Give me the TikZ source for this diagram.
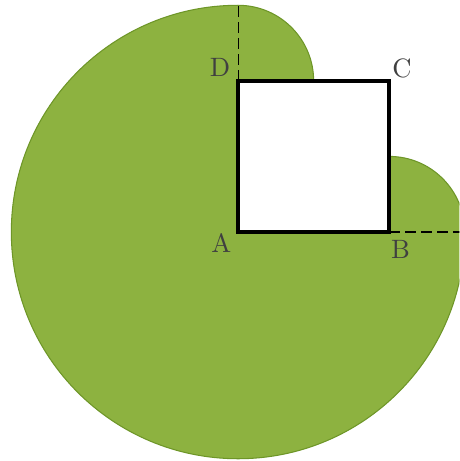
\documentclass[tikz,border=0pt]{standalone}
\usetikzlibrary{positioning}

\definecolor{grass}{RGB}{141,178,64}
\definecolor{grassedge}{RGB}{110,150,40}

\begin{document}
\begin{tikzpicture}[
  reach/.style={fill=grass, draw=grassedge, line width=0.4pt},
  barn/.style={draw=black, fill=white, line width=1.3pt},
  rope/.style={dash pattern=on 4pt off 2pt, draw=black, line width=0.4pt},
  corner/.style={font=\normalsize, text=black!75, inner sep=0pt}
]
\useasboundingbox (-3.15,-3.03) rectangle (2.93,3.07);
\clip (-3.15,-3.03) rectangle (2.93,3.07);

\coordinate (A) at (0,0);
\coordinate (B) at (2,0);
\coordinate (C) at (2,2);
\coordinate (D) at (0,2);
\coordinate (top) at (0,3);
\coordinate (right) at (3,0);

% area the goat can reach
\path[reach] (top) arc[start angle=90, end angle=360, radius=3]
  arc[start angle=0, end angle=90, radius=1] -- (C) -- (1,2)
  arc[start angle=0, end angle=90, radius=1] -- cycle;

\draw[rope] (D) -- (top);
\draw[rope] (B) -- (right);
\draw[barn] (A) rectangle (C);

\node[corner] (lA) at ([shift={(-0.22,-0.14)}]A) {A};
\node[corner] (lB) at ([shift={(0.15,-0.23)}]B) {B};
\node[corner] (lC) at ([shift={(0.17,0.16)}]C) {C};
\node[corner] (lD) at ([shift={(-0.24,0.18)}]D) {D};
\end{tikzpicture}
\end{document}
